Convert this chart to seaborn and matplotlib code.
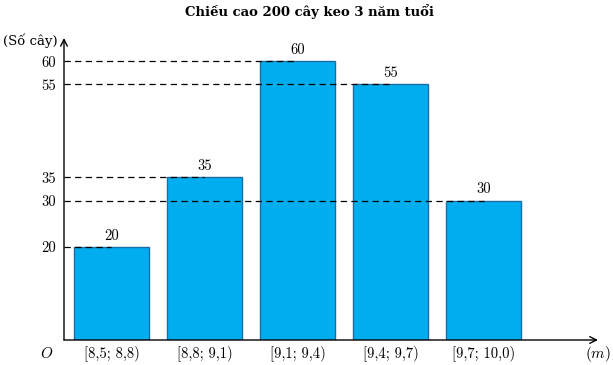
import matplotlib
matplotlib.use("Agg")
import matplotlib.pyplot as plt
import seaborn as sns
import pandas as pd

categories = ["[8,5; 8,8)", "[8,8; 9,1)", "[9,1; 9,4)", "[9,4; 9,7)", "[9,7; 10,0)"]
counts = [20, 35, 60, 55, 30]
yticks = [20, 30, 35, 55, 60]
title = "Chiều cao 200 cây keo 3 năm tuổi"
ylabel = "(Số cây)"

sns.set_theme(style="white")
plt.rcParams["font.family"] = ["cmr10", "DejaVu Serif"]
plt.rcParams["mathtext.fontset"] = "cm"
plt.rcParams["axes.unicode_minus"] = False
plt.rcParams["text.color"] = "black"
plt.rcParams["xtick.color"] = "black"
plt.rcParams["ytick.color"] = "black"
plt.rcParams["axes.labelcolor"] = "black"

df = pd.DataFrame({"cat": categories, "n": counts})

fig = plt.figure(figsize=(6.13, 3.65), dpi=100)
ax = fig.add_axes([0.1044, 0.0685, 0.9755 - 0.1044, 0.896 - 0.0685])

sns.barplot(data=df, x="cat", y="n", color="#00AEEF", saturation=1, width=0.8,
            edgecolor="#1B6DA8", linewidth=1.0, ax=ax, zorder=2)

xl, xr = -0.51, 5.23
ax.set_xlim(xl, xr)
ax.set_ylim(0, 65)

fs = 10.5
for i, v in enumerate(counts):
    ax.plot([xl, i], [v, v], ls=(0, (5, 3.5)), color="black", lw=0.9, zorder=3)
    ax.text(i, v + 0.9, str(v), ha="center", va="bottom", fontsize=fs,
            family=["cmr10", "DejaVu Serif"], color="black")

for s in ax.spines.values():
    s.set_visible(False)
ax.annotate("", xy=(1, 0), xycoords="axes fraction", xytext=(0, 0),
            arrowprops=dict(arrowstyle="->", lw=1.0, color="black", shrinkA=0, shrinkB=0))
ax.annotate("", xy=(0, 1), xycoords="axes fraction", xytext=(0, 0),
            arrowprops=dict(arrowstyle="->", lw=1.0, color="black", shrinkA=0, shrinkB=0))

ax.set_yticks(yticks)
ax.set_yticklabels([str(t) for t in yticks], fontsize=fs)
ax.set_xticks(range(len(categories)))
ax.set_xticklabels(categories, fontsize=fs)
ax.tick_params(axis="y", length=0, pad=6, colors="black")
ax.tick_params(axis="x", length=0, pad=4, colors="black")
ax.set_xlabel("")
ax.set_ylabel("")
ax.grid(False)

ax.text(-0.012, 0.99, ylabel, transform=ax.transAxes, ha="right", va="center",
        fontsize=9.5, family=["DejaVu Serif"], color="black")
ax.text(-0.02, -0.045, "$O$", transform=ax.transAxes, ha="right", va="center",
        fontsize=11, color="black")
ax.text(1.0, -0.045, "$(m)$", transform=ax.transAxes, ha="center", va="center",
        fontsize=11, color="black")

fig.text(0.505, 0.967, title, ha="center", va="center", fontsize=9.5,
         fontweight="bold", family=["DejaVu Serif"], color="black")

fig.savefig("out.png", dpi=100)
